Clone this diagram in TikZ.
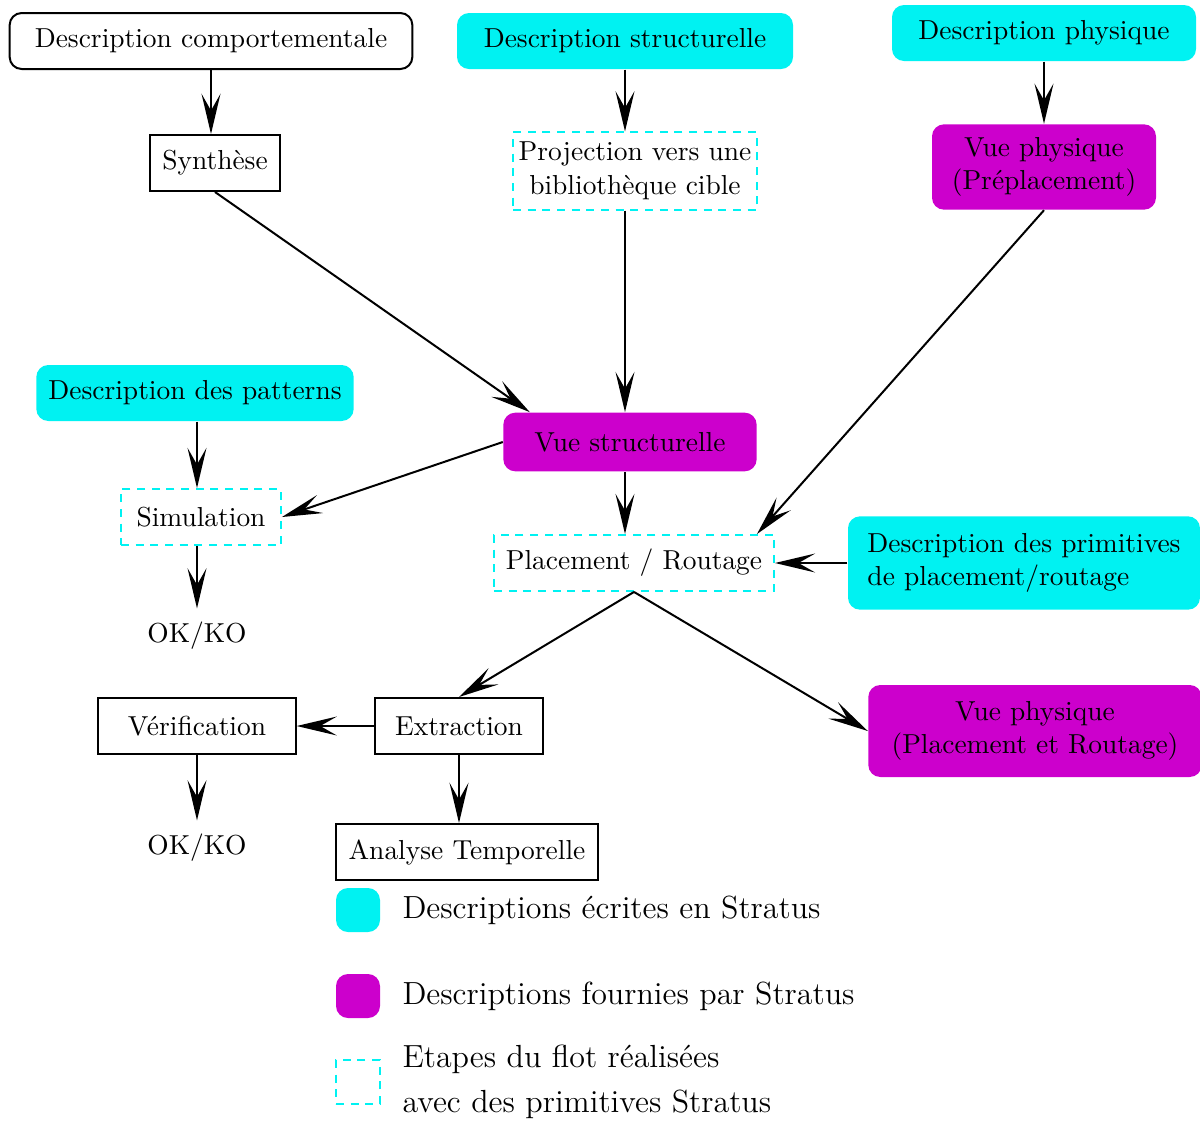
\documentclass[tikz,border=0pt]{standalone}
\usepackage{tikz}
\usetikzlibrary{
  positioning,
  arrows.meta,
  calc
}
\definecolor{stCyan}{HTML}{00F2F2}
\definecolor{stMagenta}{HTML}{CC00CC}

\begin{document}
\begin{tikzpicture}[
  x=0.375pt, y=-0.375pt,
  every node/.style={font=\fontsize{10.3}{12.6}\selectfont, align=center},
  plainbox/.style={
    rectangle, draw=black, line width=0.75pt,
    minimum height=21pt, inner sep=2pt
  },
  plainround/.style={
    plainbox, rounded corners=4.5pt
  },
  written/.style={
    rectangle, rounded corners=4.5pt, fill=stCyan,
    minimum height=21pt, inner sep=2pt
  },
  provided/.style={
    rectangle, rounded corners=4.5pt, fill=stMagenta,
    minimum height=21pt, inner sep=2pt
  },
  primstep/.style={
    rectangle, draw=stCyan, line width=0.7pt,
    dash pattern=on 3pt off 2.5pt,
    minimum height=21pt, inner sep=2pt
  },
  result/.style={inner sep=5pt},
  legtext/.style={font=\large, align=left, anchor=west, inner sep=0pt},
  arrow/.style={-{Stealth[length=5.3mm, width=2.5mm, inset=2.2mm]}, line width=0.75pt}
]
 \useasboundingbox (0,0) rectangle (1200,1122);

 % Top row -- sources
 \node[plainround, minimum width=151pt] (desccomp) at ( 211, 41) {Description comportementale};
 \node[written, minimum width=126pt]    (descstruct) at ( 625, 41) {Description structurelle};
 \node[written, minimum width=114pt]    (descphys) at (1044, 33) {Description physique};

 % Second row
 \node[plainbox, minimum width=49pt]    (synth) at ( 215,163) {Synth\`ese};
 \node[primstep, minimum width=91.5pt, minimum height=29pt] (proj) at ( 635,171) {Projection vers une\\biblioth\`eque cible};
 \node[provided, minimum width=84pt, minimum height=32pt]   (vuephysA) at (1044,167) {Vue physique\\(Pr\'eplacement)};

 \draw[arrow] (desccomp) -- (desccomp.south |- synth.north);
 \draw[arrow] (descstruct) -- (descstruct.south |- proj.north);
 \draw[arrow] (descphys) -- (vuephysA);

 % Middle -- structural view, simulation, placement
 \node[written, minimum width=119pt]    (descpat) at ( 195,393) {Description des patterns};
 \node[provided, minimum width=95pt, minimum height=22pt] (vuestruct) at ( 630,442) {Vue structurelle};
 \node[primstep, minimum width=60pt]    (simul) at ( 201,517) {Simulation};
 \node[result]                          (okkoA) at ( 197,636) {OK/KO};
 \node[primstep, minimum width=105pt]   (place) at ( 634,563) {Placement / Routage};
 \node[written, minimum width=132pt, minimum height=35pt, align=left] (descprim) at (1024,563) {Description des primitives\\de placement/routage};

 \draw[arrow] (synth.south) -- ($(vuestruct.north west)+(27,0)$);
 \draw[arrow] (proj.south -| descstruct.south) -- (descstruct.south |- vuestruct.north);
 \draw[arrow] (vuephysA.south) -- ($(place.north east)+(-18,0)$);
 \draw[arrow] (descpat.south -| okkoA) -- (simul.north -| okkoA);
 \draw[arrow] (vuestruct.west) -- (simul.east);
 \draw[arrow] (simul.south -| okkoA) -- (okkoA.north);
 \draw[arrow] (vuestruct.south -| descstruct.south) -- (place.north -| descstruct.south);
 \draw[arrow] (descprim.west) -- (place.east);

 % Bottom -- extraction and checks
 \node[plainbox, minimum width=74pt]    (verif) at ( 197,726) {V\'erification};
 \node[plainbox, minimum width=63pt]    (extr) at ( 459,726) {Extraction};
 \node[provided, minimum width=125pt, minimum height=34.5pt] (vuephysB) at (1035,731) {Vue physique\\(Placement et Routage)};
 \node[plainbox, minimum width=98pt]    (analyse) at ( 467,852) {Analyse Temporelle};
 \node[result]                          (okkoB) at ( 197,848) {OK/KO};

 \draw[arrow] (place.south) -- (extr.north);
 \draw[arrow] (place.south) -- (vuephysB.west);
 \draw[arrow] (extr.west) -- (extr.west -| verif.east);
 \draw[arrow] (verif.south -| okkoB) -- (okkoB.north);
 \draw[arrow] (extr.south) -- (extr.south |- analyse.north);

 % Legend
 \node[written, minimum size=16.5pt, inner sep=0pt]  (legcyan) at (358, 910) {};
 \node[provided, minimum size=16.5pt, inner sep=0pt] (legmag) at (358, 996) {};
 \node[primstep, minimum size=16.5pt, inner sep=0pt, line width=0.5pt] (legdash) at (358,1082) {};
 \node[legtext] (legcyantxt) at (402, 910) {Descriptions \'ecrites en Stratus};
 \node[legtext] (legmagtxt) at (402, 996) {Descriptions fournies par Stratus};
 \node[legtext] (legdashtxt) at (402,1082) {Etapes du flot r\'ealis\'ees\\[3pt]avec des primitives Stratus};
\end{tikzpicture}
\end{document}
